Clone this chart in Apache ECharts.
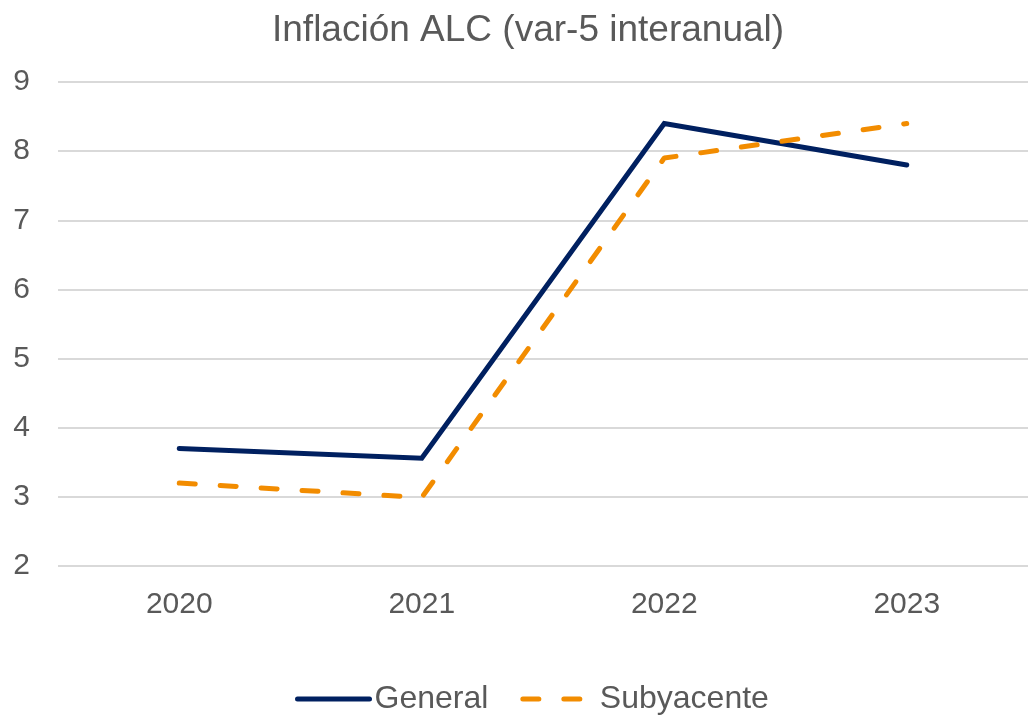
<!DOCTYPE html>
<html>
<head>
<meta charset="utf-8">
<script src="https://cdn.jsdelivr.net/npm/echarts@6/dist/echarts.min.js"></script>
<style>
  html, body { margin: 0; padding: 0; background: #fff; }
  #chart { width: 1028px; height: 718px; }
</style>
</head>
<body>
<div id="chart"></div>
<script>
var years = ['2020', '2021', '2022', '2023'];
var general = [3.7, 3.56, 8.4, 7.8];
var subyacente = [3.2, 2.99, 7.9, 8.4];

var chart = echarts.init(document.getElementById('chart'));

var dash = [16, 25];

var option = {
    backgroundColor: '#fff',
    title: {
        text: 'Inflación ALC (var-5 interanual)',
        left: 267,
        top: 7,
        textStyle: {
            fontFamily: 'Liberation Sans',
            fontSize: 37,
            fontWeight: 'normal',
            color: '#595959'
        }
    },
    grid: {
        left: 58,
        right: 0,
        top: 82,
        bottom: 152
    },
    legend: {
        bottom: -2,
        left: 290,
        itemWidth: 72,
        itemHeight: 12,
        itemGap: 32,
        itemStyle: { opacity: 0 },
        textStyle: {
            fontFamily: 'Liberation Sans',
            fontSize: 32,
            color: '#595959'
        },
        data: [
            { name: 'General', lineStyle: { width: 5, color: '#002060', cap: 'round' } },
            { name: 'Subyacente', lineStyle: { width: 5, color: '#F28C00', type: dash, cap: 'round' } }
        ]
    },
    xAxis: {
        type: 'category',
        data: years,
        axisLine: { show: false },
        axisTick: { show: false },
        axisLabel: {
            margin: 24,
            fontFamily: 'Liberation Sans',
            fontSize: 30,
            color: '#595959'
        }
    },
    yAxis: {
        type: 'value',
        min: 2,
        max: 9,
        interval: 1,
        axisLabel: {
            margin: 28,
            fontFamily: 'Liberation Sans',
            fontSize: 30,
            color: '#595959'
        },
        splitLine: { lineStyle: { color: '#d9d9d9', width: 2 } }
    },
    series: [
        {
            name: 'General',
            type: 'line',
            data: general,
            symbol: 'none',
            color: '#002060',
            lineStyle: { width: 5, color: '#002060', cap: 'round', join: 'miter' }
        },
        {
            name: 'Subyacente',
            type: 'line',
            data: subyacente,
            symbol: 'none',
            color: '#F28C00',
            lineStyle: { width: 5, color: '#F28C00', type: dash, cap: 'round' }
        }
    ]
};

chart.setOption(option);
</script>
</body>
</html>
